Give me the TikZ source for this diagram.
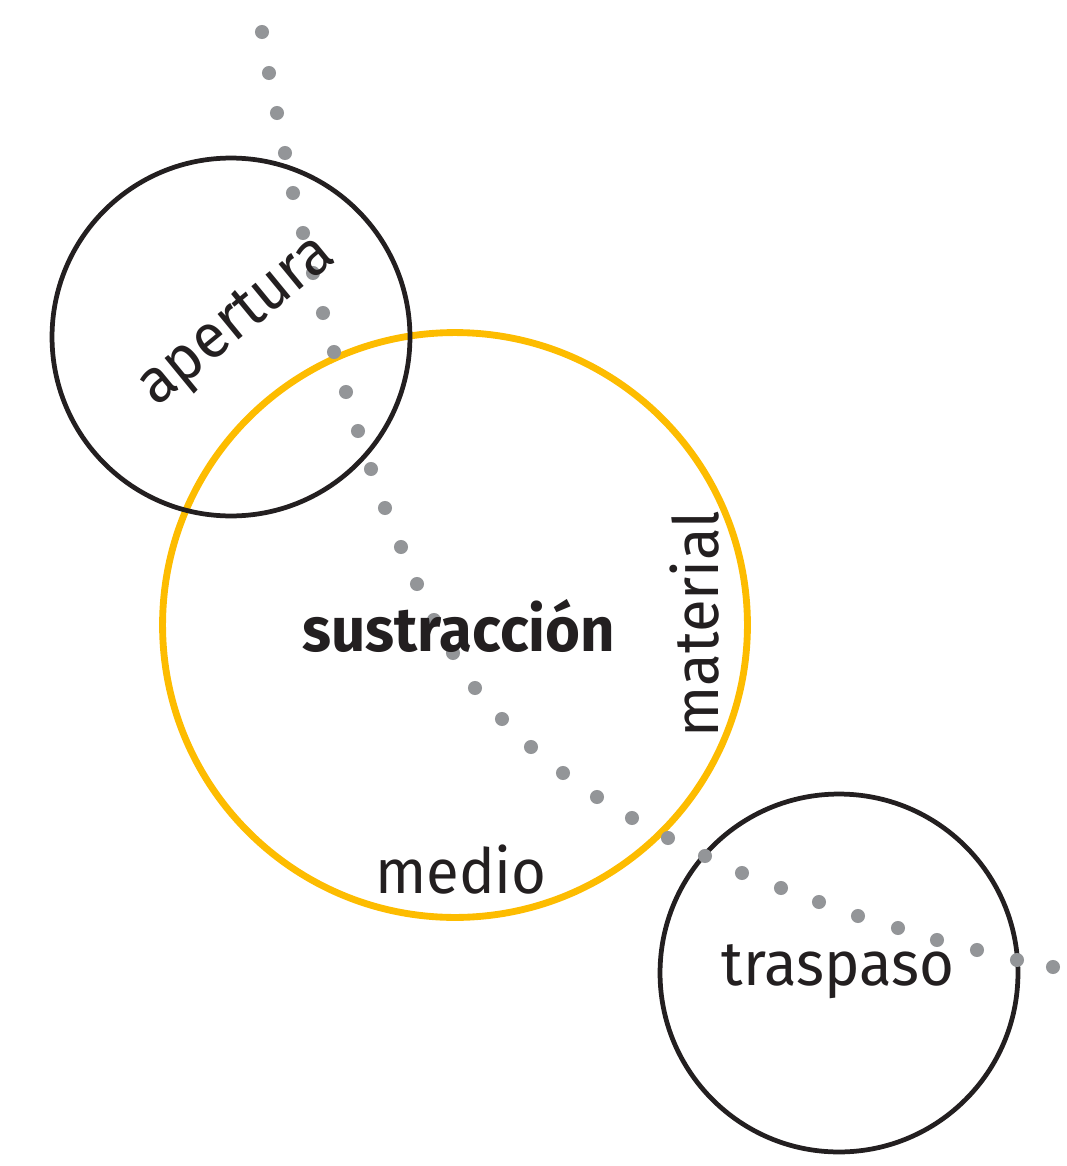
\documentclass[tikz,border=0pt]{standalone}
\usepackage{fontspec}
\setmainfont[FakeStretch=0.96]{Fira Sans}
\usetikzlibrary{positioning}
\definecolor{ringyellow}{RGB}{253,188,0}
\definecolor{dotgrey}{RGB}{147,149,152}
\definecolor{inkblack}{RGB}{35,31,32}
\tikzset{
	ring/.style={circle,draw=inkblack,line width=2.7pt,minimum size=7.16cm,inner sep=0pt},
	bigring/.style={ring,draw=ringyellow,line width=3.9pt,minimum size=11.7cm},
	word/.style={text=inkblack,font=\fontsize{35.5}{40}\selectfont,inner sep=0pt},
	dot/.style={fill=dotgrey}
}

\begin{document}
\begin{tikzpicture}[x=0.02cm,y=-0.02cm]
	\useasboundingbox (0,0) rectangle (1066,1166);
	\node[bigring] (sustraccion) at (455,625) {};
	\node[ring] (apertura) at (231,337) {};
	\node[ring] (traspaso) at (839,973) {};

	\foreach \p in {(262,32),(269,73),(277,113),(285,153),(293,193),(303,233),(313,273),(323,313),(334,352),(346,392),(358,431),(371,469),(385,508),(401,547),(417,584),(434,620),(453,653),(475,688),(502,719),(531,747),(563,773),(597,797),(632,818),(668,838),(705,856),(742,873),(781,888),(819,902),(858,916),(898,928),(937,940),(977,950),(1017,960),(1053,967)}
		\fill[dot] \p circle (4pt);

	\node[word,rotate=39.4] (aperturatxt) at (238,323) {apertura};
	\node[word,font=\fontsize{35.5}{40}\selectfont\bfseries,anchor=base] (sustracciontxt) at (459,651) {sustracción};
	\node[word,rotate=90,anchor=base] (materialtxt) at (718,624) {material};
	\node[word,anchor=base] (mediotxt) at (461,893) {medio};
	\node[word,anchor=base] (traspasotxt) at (838,985) {traspaso};
\end{tikzpicture}
\end{document}
